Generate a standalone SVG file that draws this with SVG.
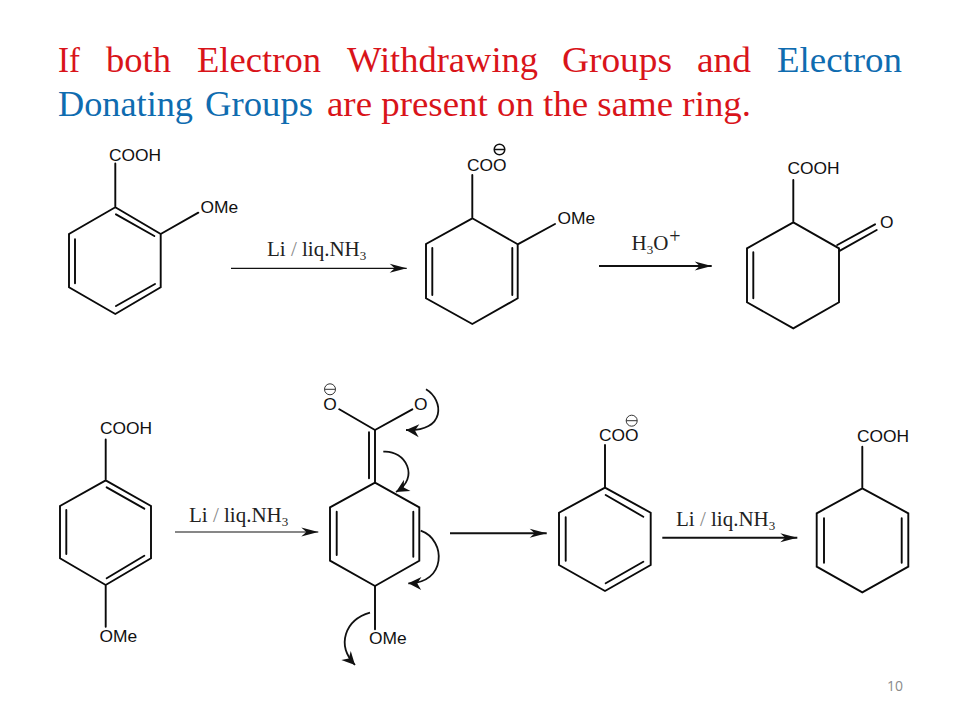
<svg xmlns="http://www.w3.org/2000/svg" width="960" height="720" viewBox="0 0 960 720">
<style>
.b{fill:none;stroke:#0a0a0a;stroke-width:1.9;stroke-linejoin:miter;stroke-linecap:round}
.s{font-family:"Liberation Sans",Arial,sans-serif;font-size:17.4px;fill:#111}
.r{font-family:"Liberation Serif","Times New Roman",serif;font-size:21px;fill:#222}
.sub{font-size:13px}
.t{font-family:"Liberation Serif","Times New Roman",serif;font-size:36px}
.red{fill:#d9141a}
.blue{fill:#0f6cb0}
.a1{fill:none;stroke:#111;stroke-width:1.2;marker-end:url(#h)}
.a2{fill:none;stroke:#111;stroke-width:1.9;marker-end:url(#h)}
.c{fill:none;stroke:#111;stroke-width:1.8;marker-end:url(#ch)}
.m{fill:none;stroke:#333;stroke-width:1}
.m2{fill:none;stroke:#111;stroke-width:1.5}
.n{font-family:"Open Sans","Liberation Sans",sans-serif;font-size:14px;fill:#8a8a8a}
</style>
<defs>
<marker id="h" markerUnits="userSpaceOnUse" viewBox="-18 -6 19 12" refX="0" refY="0" markerWidth="19" markerHeight="12" orient="auto"><path d="M-17,-4.5 L0,0 L-17,4.5 L-12,0 Z" fill="#111"/></marker>
<marker id="ch" markerUnits="userSpaceOnUse" viewBox="-14 -7 15 14" refX="0" refY="0" markerWidth="15" markerHeight="14" orient="auto"><path d="M-13,-6.5 L0,0 L-13,6.5 L-9,0 Z" fill="#111"/></marker>
</defs>
<rect width="960" height="720" fill="#fff"/>
<g id="title" class="t">
<text class="red" x="58" y="72" textLength="22" lengthAdjust="spacingAndGlyphs">If</text>
<text class="red" x="106" y="72" textLength="65" lengthAdjust="spacingAndGlyphs">both</text>
<text class="red" x="197" y="72" textLength="124" lengthAdjust="spacingAndGlyphs">Electron</text>
<text class="red" x="347" y="72" textLength="191" lengthAdjust="spacingAndGlyphs">Withdrawing</text>
<text class="red" x="562" y="72" textLength="110" lengthAdjust="spacingAndGlyphs">Groups</text>
<text class="red" x="697" y="72" textLength="54" lengthAdjust="spacingAndGlyphs">and</text>
<text class="blue" x="777" y="72" textLength="125" lengthAdjust="spacingAndGlyphs">Electron</text>
<text class="blue" x="58" y="116" textLength="135" lengthAdjust="spacingAndGlyphs">Donating</text>
<text class="blue" x="205" y="116" textLength="108" lengthAdjust="spacingAndGlyphs">Groups</text>
<text class="red" x="327" y="116" textLength="424" lengthAdjust="spacingAndGlyphs">are present on the same ring.</text>
</g>
<g id="mol1">
<path class="b" d="M115.3,207.3 L160.7,234 V287.3 L115.3,314 L69,287.3 V234 Z M115.3,207.3 V163.5 M160.7,234 L198.3,212.7 M116,214.3 L154.3,236 M75,239.3 V283.3 M116,306 L155,284"/>
<text class="s" x="109" y="161">COOH</text>
<text class="s" x="200.5" y="213.3">OMe</text>
</g>
<g id="mol2">
<path class="b" d="M472.3,218.3 L517.7,244.3 V298.3 L472.3,324 L426,298.3 V244 Z M472.3,218.3 V175 M517.7,244.3 L555,224 M432.3,248 V295 M512.3,248 V295"/>
<text class="s" x="467" y="170.7">COO</text>
<circle class="m2" cx="499.5" cy="149.5" r="5.3"/><path class="m2" d="M494.2,149.5 H504.8"/>
<text class="s" x="557.5" y="224.3">OMe</text>
</g>
<g id="mol3">
<path class="b" d="M793.3,222.3 L839,248.3 V302.3 L793.3,328.3 L747,302.3 V248.3 Z M793.3,222.3 V180 M753.3,252.3 V298.3 M837.3,245 L875,224.3 M840,250.7 L876.7,230"/>
<text class="s" x="787.5" y="174.3">COOH</text>
<text class="s" x="880" y="227.7">O</text>
</g>
<g id="mol4">
<path class="b" d="M105.7,480.3 L151,506 V558.3 L105.7,585 L60,558.3 V506 Z M105.7,480.3 V439.5 M105.7,585 V626.7 M106.7,487.3 L144.3,508.7 M66.3,510 V554 M106.7,578.3 L144.3,555.7"/>
<text class="s" x="100" y="434.3">COOH</text>
<text class="s" x="99.5" y="641.7">OMe</text>
</g>
<g id="mol5">
<path class="b" d="M375,482.7 L419.3,507.3 V560.7 L375,586 L330,560.7 V507.3 Z M375,482.7 V430 M369,432.3 V478.3 M375,430 L339.3,409.3 M375,430 L412.3,409.3 M336.7,511.7 V555 M413.3,511.7 V556.7 M375,586 V629.3"/>
<text class="s" x="330" y="409.5" text-anchor="middle">O</text>
<text class="s" x="420.7" y="409.5" text-anchor="middle">O</text>
<circle class="m" cx="330" cy="389.3" r="5.5"/><path class="m" d="M324.5,389.3 H335.5"/>
<text class="s" x="369" y="644">OMe</text>
</g>
<g id="mol6">
<path class="b" d="M605,487.7 L650.7,512.7 V565 L605,591 L559,565 V512.7 Z M605,487.7 V445 M605.7,495 L643.3,516.7 M565.7,517.3 V560.7 M605.7,583.3 L643.3,561.7"/>
<text class="s" x="599" y="441">COO</text>
<circle class="m" cx="631.7" cy="420.7" r="5.5"/><path class="m" d="M626.2,420.7 H637.2"/>
</g>
<g id="mol7">
<path class="b" d="M862.3,488.3 L908.3,513.3 V566.7 L862.3,592.3 L816.7,566.7 V513.3 Z M862.3,488.3 V446.7 M824,518.3 V562.7 M901.7,518.3 V562.7"/>
<text class="s" x="857" y="442.3">COOH</text>
</g>
<g id="connectors">
<path class="a1" d="M231,268.3 H406.7"/>
<path class="a2" d="M599,266 H711.7"/>
<path class="a1" d="M175,532 H318.3"/>
<path class="a2" d="M450,533.3 H546.7"/>
<path class="a2" d="M662.3,537.7 H797.3"/>
<path class="c" d="M426,389.3 C444,400 446,432 406,430"/>
<path class="c" d="M383.3,451.7 C406,450 420,478 396,492"/>
<path class="c" d="M420.7,530.7 C447,540 446,584 408.3,583.3"/>
<path class="c" d="M370,612.7 C345,620 336,645 355,665"/>
</g>
<g id="labels">
<text class="r" x="267" y="255.7">Li <tspan fill="#888">/</tspan> liq.NH<tspan class="sub" dy="4">3</tspan></text>
<text class="r" x="631.5" y="250">H<tspan class="sub" dy="4">3</tspan><tspan dy="-4">O</tspan><tspan font-size="20" dy="-7" dx="1">+</tspan></text>
<text class="r" x="189" y="522.3">Li <tspan fill="#888">/</tspan> liq.NH<tspan class="sub" dy="4">3</tspan></text>
<text class="r" x="676" y="526">Li <tspan fill="#888">/</tspan> liq.NH<tspan class="sub" dy="4">3</tspan></text>
</g>
<text class="n" x="887" y="691">10</text>
</svg>
